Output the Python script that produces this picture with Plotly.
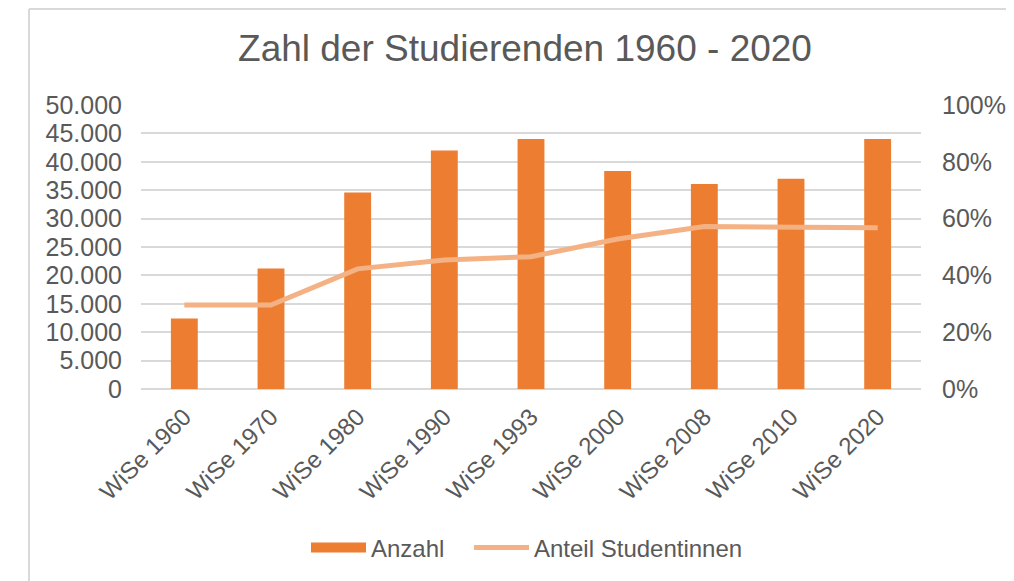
import plotly.graph_objects as go

categories = ["WiSe 1960", "WiSe 1970", "WiSe 1980", "WiSe 1990", "WiSe 1993",
              "WiSe 2000", "WiSe 2008", "WiSe 2010", "WiSe 2020"]
anzahl = [12400, 21200, 34600, 42000, 44000, 38400, 36100, 37000, 44000]
anteil = [0.296, 0.296, 0.423, 0.454, 0.466, 0.528, 0.572, 0.568, 0.568]

FONT = "Liberation Sans, Arial, sans-serif"
TXT = "#595959"
GRID = "#D9D9D9"
BAR = "#ED7D31"
LINE = "#F4B183"

fig = go.Figure()
fig.add_trace(go.Bar(x=categories, y=anzahl, name="Anzahl", showlegend=False,
                     marker=dict(color=BAR, line=dict(width=0)), yaxis="y"))
# legend entry for the bars (wide rectangular swatch like the original)
fig.add_trace(go.Scatter(x=[None], y=[None], name="Anzahl", mode="lines",
                         line=dict(color=BAR, width=12), yaxis="y", legend="legend"))
fig.add_trace(go.Scatter(x=categories, y=anteil, name="Anteil Studentinnen", mode="lines",
                         line=dict(color=LINE, width=5), yaxis="y2", legend="legend2"))

OFF = 8  # page body margin
W, H = 1014 - OFF, 581 - OFF
l, r, t, b = 141 - OFF, 93, 105 - OFF, 192
pw, ph = W - l - r, H - t - b

def px_x(x):
    return (x - OFF - l) / pw

def px_y(y):
    return (H - b - (y - OFF)) / ph

leg_common = dict(orientation="h", xanchor="left", y=1 - (548 - OFF) / H,
                  yref="container", yanchor="middle", font=dict(size=24, color=TXT),
                  itemwidth=55, tracegroupgap=0)

fig.update_layout(
    width=W, height=H,
    margin=dict(l=l, r=r, t=t, b=b, autoexpand=False),
    paper_bgcolor="white", plot_bgcolor="white",
    separators=",.",
    font=dict(family=FONT, color=TXT, size=24),
    bargap=0.69,
    title=dict(text="Zahl der Studierenden 1960 - 2020", x=px_x(525), xref="paper", xanchor="center",
               y=1 - (48 - OFF) / H, yref="container", yanchor="middle",
               font=dict(family=FONT, size=37, color=TXT)),
    xaxis=dict(tickangle=-45, showgrid=False, showline=False, ticks="", ticklabelstandoff=8,
               tickfont=dict(size=24, color=TXT)),
    yaxis=dict(range=[0, 50000], dtick=5000, tickformat=",d", showgrid=True,
               gridcolor=GRID, gridwidth=1.5, zeroline=True, zerolinecolor=GRID, zerolinewidth=1.5,
               ticks="", ticklabelstandoff=18, tickfont=dict(size=25, color=TXT)),
    yaxis2=dict(range=[0, 1], dtick=0.2, tickformat=".0%", overlaying="y", side="right",
                showgrid=False, zeroline=False, ticks="", ticklabelstandoff=20,
                tickfont=dict(size=25, color=TXT)),
    legend=dict(x=px_x(306), **leg_common),
    legend2=dict(x=px_x(469), **leg_common),
    showlegend=True,
    shapes=[
        dict(type="line", xref="paper", yref="paper", x0=px_x(29), x1=px_x(29),
             y0=px_y(590), y1=px_y(9), line=dict(color=GRID, width=2)),
        dict(type="line", xref="paper", yref="paper", x0=px_x(29), x1=px_x(1020),
             y0=px_y(9), y1=px_y(9), line=dict(color=GRID, width=2)),
    ],
)

fig.write_html("out.html")
